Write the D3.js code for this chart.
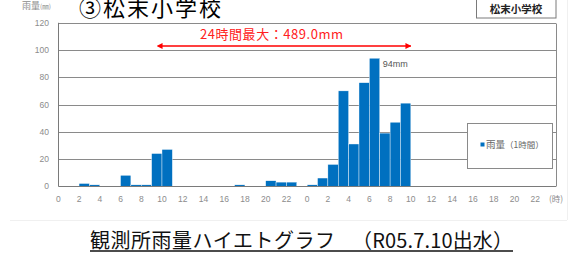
<!DOCTYPE html>
<html><head><meta charset="utf-8">
<script src="https://cdn.jsdelivr.net/npm/d3@7"></script>
<style>body{margin:0;background:#fff;}svg{display:block;}</style>
</head><body>
<script>
// ---- data ----
const title = "③松末小学校";
const stationLabel = "松末小学校";
const yAxisTitle = "雨量";
const yAxisUnit = "(㎜)";
const footerTitle = "観測所雨量ハイエトグラフ";
const footerSub = "（R05.7.10出水）";
const seriesName = "雨量";
const seriesUnit = "（1時間）";
// hourly rainfall (mm), hour index 0..47 over two days
const rainDay1 = [0,0,2,1,0,0,8,1,1,24,27,0,0,0,0,0,0,1,0,0,4,3,3,0];
const rainDay2 = [1,6,16,70,31,76,94,39,47,61,0,0,0,0,0,0,0,0,0,0,0,0,0,0];
const rain = rainDay1.concat(rainDay2);
const yTicks = [0,20,40,60,80,100,120];
const xTicks = d3.range(0, 48, 2);
const xUnitLabel = "(時)";
const maxWindow = [10, 34];          // 24-hour max window (hour indices)
const maxLabel = "24時間最大：489.0mm";
const peakLabel = "94mm";

const W = 588, H = 259;
const svg = d3.select("body").append("svg").attr("width", W).attr("height", H);
const jp = "'Noto Sans CJK JP', 'Noto Sans', sans-serif";

const x = d3.scaleLinear().domain([0, 48]).range([58.3, 556]);
const y = d3.scaleLinear().domain([0, 120]).range([186.2, 22.8]);

// faint frame of the inset image
svg.append("line").attr("x1", 10).attr("x2", 567).attr("y1", 220.5).attr("y2", 220.5)
  .attr("stroke", "#f0f0f0");
svg.append("line").attr("x1", 567.5).attr("x2", 567.5).attr("y1", 0).attr("y2", 220)
  .attr("stroke", "#f0f0f0");

// gridlines
svg.append("g").selectAll("line").data(yTicks.filter(d => d > 0)).join("line")
  .attr("x1", x(0)).attr("x2", x(48))
  .attr("y1", d => Math.round(y(d)) + 0.5).attr("y2", d => Math.round(y(d)) + 0.5)
  .attr("stroke", "#8a8a8a").attr("stroke-width", 1);
// right border
svg.append("line").attr("x1", x(48) + 0.5).attr("x2", x(48) + 0.5)
  .attr("y1", Math.round(y(120)) + 0.5).attr("y2", Math.round(y(0)) + 0.5)
  .attr("stroke", "#8a8a8a");

// bars
svg.append("g").selectAll("rect").data(rain.map((v, i) => ({v, i})).filter(d => d.v > 0)).join("rect")
  .attr("x", d => x(d.i)).attr("width", d => x(d.i + 1) - x(d.i))
  .attr("y", d => y(d.v)).attr("height", d => y(0) - y(d.v))
  .attr("fill", "#0070c0").attr("stroke", "#ffffff").attr("stroke-width", 0.4);

// axes lines
svg.append("line").attr("x1", x(0)).attr("x2", x(48))
  .attr("y1", Math.round(y(0)) + 0.5).attr("y2", Math.round(y(0)) + 0.5).attr("stroke", "#7a7a7a");
svg.append("line").attr("x1", Math.round(x(0)) + 0.5).attr("x2", Math.round(x(0)) + 0.5)
  .attr("y1", y(120)).attr("y2", y(0)).attr("stroke", "#7a7a7a");

// y tick labels
svg.append("g").selectAll("text").data(yTicks).join("text")
  .attr("x", 49).attr("y", d => y(d) + 3)
  .attr("text-anchor", "end").attr("font-family", "'Liberation Sans', sans-serif")
  .attr("font-size", 8.5).attr("fill", "#8c8c8c").text(d => d);

// x tick labels
svg.append("g").selectAll("text").data(xTicks).join("text")
  .attr("x", d => x(d)).attr("y", 202)
  .attr("text-anchor", "middle").attr("font-family", "'Liberation Sans', sans-serif")
  .attr("font-size", 8.5).attr("fill", "#8c8c8c").text(d => d % 24);
svg.append("text").attr("x", x(48)).attr("y", 202).attr("text-anchor", "middle")
  .attr("font-family", jp).attr("font-size", 8.5).attr("fill", "#8c8c8c").text(xUnitLabel);

// y axis title
const yt = svg.append("text").attr("x", 22).attr("y", 9).attr("font-family", jp)
  .attr("fill", "#8c8c8c");
yt.append("tspan").attr("font-size", 9).text(yAxisTitle);
yt.append("tspan").attr("font-size", 6.5).text(yAxisUnit);

// title
svg.append("text").attr("x", 79).attr("y", 16).attr("font-family", jp)
  .attr("font-size", 22).attr("fill", "#000").attr("textLength", 142).text(title);

// station box
svg.append("rect").attr("x", 476.5).attr("y", -1).attr("width", 79.5).attr("height", 19)
  .attr("fill", "#fff").attr("stroke", "#7a7a7a");
svg.append("text").attr("x", 516).attr("y", 13).attr("text-anchor", "middle")
  .attr("font-family", jp).attr("font-weight", "bold").attr("font-size", 10.5)
  .attr("fill", "#222").text(stationLabel);

// red arrow for 24-hour max
const defs = svg.append("defs");
["s", "e"].forEach(k => {
  defs.append("marker").attr("id", "arr" + k).attr("viewBox", "0 0 10 10")
    .attr("refX", k === "e" ? 9 : 1).attr("refY", 5).attr("markerWidth", 4).attr("markerHeight", 4)
    .attr("orient", "auto-start-reverse").attr("markerUnits", "strokeWidth")
    .append("path").attr("d", "M0,0 L10,5 L0,10 z").attr("fill", "#ff0000");
});
svg.append("line").attr("x1", x(maxWindow[0])).attr("x2", x(maxWindow[1]))
  .attr("y1", 46).attr("y2", 46).attr("stroke", "#ff0000").attr("stroke-width", 1.5)
  .attr("marker-start", "url(#arrs)").attr("marker-end", "url(#arre)");
svg.append("text").attr("x", 200).attr("y", 38.5).attr("font-family", jp)
  .attr("font-size", 13).attr("fill", "#ff2020").attr("textLength", 143).text(maxLabel);

// peak label
const peakIdx = rain.indexOf(d3.max(rain));
svg.append("text").attr("x", x(peakIdx + 1) + 3).attr("y", 67).attr("font-family", "'Liberation Sans', sans-serif")
  .attr("font-size", 9).attr("fill", "#555").text(peakLabel);

// legend
svg.append("rect").attr("x", 467.5).attr("y", 123.5).attr("width", 85).attr("height", 45)
  .attr("fill", "#fff").attr("stroke", "#8a8a8a");
svg.append("rect").attr("x", 480.5).attr("y", 142.5).attr("width", 4).attr("height", 4).attr("fill", "#0070c0");
const lt = svg.append("text").attr("x", 486).attr("y", 148).attr("font-family", jp).attr("fill", "#666");
lt.append("tspan").attr("font-size", 9.5).text(seriesName);
lt.append("tspan").attr("font-size", 8.5).text(seriesUnit);

// footer title
svg.append("text").attr("x", 90).attr("y", 248).attr("font-family", jp)
  .attr("font-size", 20).attr("fill", "#111").attr("textLength", 245).text(footerTitle);
svg.append("text").attr("x", 352).attr("y", 248).attr("font-family", jp)
  .attr("font-size", 20).attr("fill", "#111").attr("textLength", 161).text(footerSub);
svg.append("line").attr("x1", 90).attr("x2", 513).attr("y1", 251).attr("y2", 251)
  .attr("stroke", "#111").attr("stroke-width", 1.3);
</script>
</body></html>
